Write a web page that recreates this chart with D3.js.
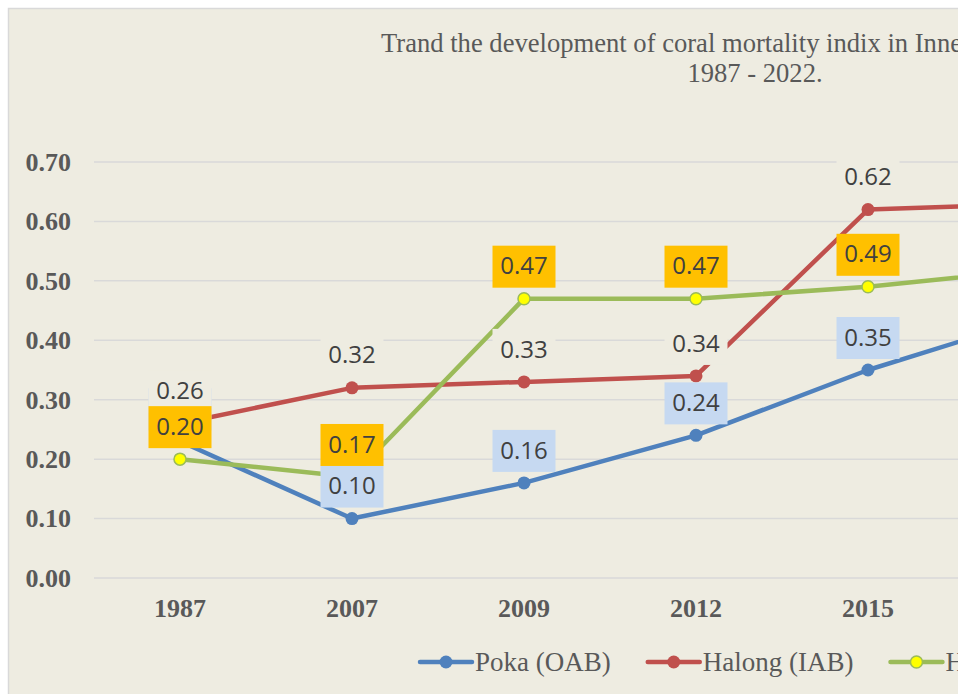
<!DOCTYPE html>
<html>
<head>
<meta charset="utf-8">
<script src="https://cdn.jsdelivr.net/npm/d3@7"></script>
<style>
  html, body { margin: 0; padding: 0; background: #fff; overflow: hidden; }
  svg { display: block; }
</style>
</head>
<body>
<svg id="chart"></svg>
<script>
var width = 965,
    height = 694,
    bg = "#EEECE1"

// dados (a ultima categoria fica fora do quadro)
var anos = ["1987", "2007", "2009", "2012", "2015", "2022"]
var poka = [0.23, 0.10, 0.16, 0.24, 0.35, 0.44]
var halong = [0.26, 0.32, 0.33, 0.34, 0.62, 0.63]
var terceira = [0.20, 0.17, 0.47, 0.47, 0.49, 0.52]
var ticksY = [0, 0.1, 0.2, 0.3, 0.4, 0.5, 0.6, 0.7]
var nomes = ["Poka (OAB)", "Halong (IAB)", "Halong Bay (All)"]

var series = [
  {nome: nomes[0], valores: poka, cor: "#4F81BD", marca: "#4F81BD", rotulo: "#C6D9F1"},
  {nome: nomes[1], valores: halong, cor: "#C0504D", marca: "#C0504D", rotulo: bg},
  {nome: nomes[2], valores: terceira, cor: "#9BBB59", marca: "#FFFF00", rotulo: "#FFC000"}
]

var svg = d3.select("#chart").attr("width", width).attr("height", height)

// fundo da area do grafico
svg.append("rect")
  .attr("x", 8).attr("y", 8)
  .attr("width", 950).attr("height", height)
  .attr("fill", bg)
svg.append("path")
  .attr("d", "M8.5," + height + "V8.5H958")
  .attr("fill", "none")
  .attr("stroke", "#D9D9D9")
  .attr("stroke-width", 1.5)

svg.append("clipPath").attr("id", "corte")
  .append("rect").attr("x", 8).attr("y", 8).attr("width", 950).attr("height", height)

var x = d3.scaleBand().domain(anos).range([94, 94 + 172 * anos.length])
var y = d3.scaleLinear().domain([0, 0.7]).range([578, 162])
var cx = function(i) { return x(anos[i]) + x.bandwidth() / 2 }

var g = svg.append("g").attr("clip-path", "url(#corte)")

// linhas de grade
g.selectAll(".grade")
  .data(ticksY)
  .enter().append("line")
  .attr("x1", x.range()[0]).attr("x2", x.range()[1])
  .attr("y1", function(d) { return y(d) }).attr("y2", function(d) { return y(d) })
  .attr("stroke", "#D9D9D9")
  .attr("stroke-width", 1.5)

// eixo Y
var eixoY = svg.append("g")
  .attr("transform", "translate(71,0)")
  .call(d3.axisLeft(y).tickValues(ticksY).tickFormat(d3.format(".2f")).tickSize(0).tickPadding(0))
eixoY.select(".domain").remove()
eixoY.selectAll("text")
  .attr("font-family", "'Liberation Serif', 'Times New Roman', serif")
  .attr("font-weight", "bold")
  .attr("font-size", 26)
  .attr("fill", "#595959")

// eixo X
var eixoX = svg.append("g")
  .attr("transform", "translate(0,597)")
  .call(d3.axisBottom(x).tickSize(0).tickPadding(0))
eixoX.select(".domain").remove()
eixoX.selectAll("text")
  .attr("dy", "0.77em")
  .attr("font-family", "'Liberation Serif', 'Times New Roman', serif")
  .attr("font-weight", "bold")
  .attr("font-size", 26)
  .attr("fill", "#595959")

// linhas e marcadores
var linha = d3.line()
  .x(function(d, i) { return cx(i) })
  .y(function(d) { return y(d) })

series.forEach(function(s) {
  g.append("path")
    .datum(s.valores)
    .attr("d", linha)
    .attr("fill", "none")
    .attr("stroke", s.cor)
    .attr("stroke-width", 4.5)
    .attr("stroke-linejoin", "round")
    .attr("stroke-linecap", "round")
  g.selectAll(null)
    .data(s.valores)
    .enter().append("circle")
    .attr("cx", function(d, i) { return cx(i) })
    .attr("cy", function(d) { return y(d) })
    .attr("r", s.marca == s.cor ? 6.5 : 6)
    .attr("fill", s.marca)
    .attr("stroke", s.cor)
    .attr("stroke-width", s.marca == s.cor ? 0 : 1.5)
})

// rotulos de dados (acima das linhas, por cima de tudo)
series.forEach(function(s) {
  var r = g.selectAll(null)
    .data(s.valores)
    .enter().append("g")
    .attr("transform", function(d, i) { return "translate(" + cx(i) + "," + (y(d) - 33) + ")" })
  r.append("rect")
    .attr("x", -31.5).attr("y", -20)
    .attr("width", 63).attr("height", 42)
    .attr("fill", s.rotulo)
  r.append("text")
    .attr("text-anchor", "middle")
    .attr("dy", "0.36em")
    .attr("font-family", "'Open Sans', 'Noto Sans', sans-serif")
    .attr("font-size", 24)
    .attr("fill", "#404040")
    .text(function(d) { return d3.format(".2f")(d) })
})

// titulo
var titulo = svg.append("text")
  .attr("font-family", "'Liberation Serif', 'Times New Roman', serif")
  .attr("font-size", 26.6)
  .attr("fill", "#595959")
  .attr("clip-path", "url(#corte)")
titulo.append("tspan").attr("x", 381).attr("y", 52)
  .text("Trand the development of coral mortality indix in Inner and Outer Halong Bay,")
titulo.append("tspan").attr("x", 755).attr("y", 82).attr("text-anchor", "middle")
  .text("1987 - 2022.")

// legenda
var legenda = g.append("g").attr("transform", "translate(420,662)")
var px = 0
series.forEach(function(s) {
  var item = legenda.append("g").attr("transform", "translate(" + px + ",0)")
  item.append("line")
    .attr("x1", 0).attr("x2", 52)
    .attr("stroke", s.cor)
    .attr("stroke-width", 4.5)
    .attr("stroke-linecap", "round")
  item.append("circle")
    .attr("cx", 26).attr("r", s.marca == s.cor ? 6.5 : 6)
    .attr("fill", s.marca)
    .attr("stroke", s.cor)
    .attr("stroke-width", s.marca == s.cor ? 0 : 1.5)
  var t = item.append("text")
    .attr("x", 55)
    .attr("dy", "0.33em")
    .attr("font-family", "'Liberation Serif', 'Times New Roman', serif")
    .attr("font-size", 27)
    .attr("fill", "#595959")
    .text(s.nome)
  px += 55 + t.node().getComputedTextLength() + 37
})
</script>
</body>
</html>
